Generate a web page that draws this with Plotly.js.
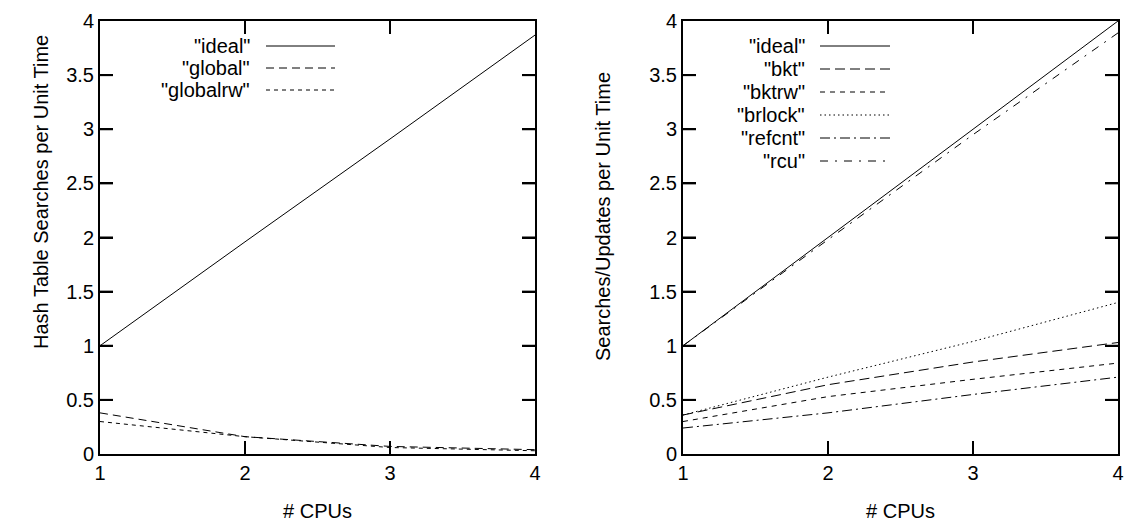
<!DOCTYPE html>
<html>
<head>
<meta charset="utf-8">
<script src="https://cdn.plot.ly/plotly-3.0.1.min.js"></script>
<style>html,body{margin:0;padding:0;background:#fff;}#chart{width:1125px;height:523px;}</style>
</head>
<body>
<div id="chart"></div>
<script>
// ---- data ----
const cpus = [1, 2, 3, 4];
// left panel
const leftIdeal    = [1.00, 1.96, 2.91, 3.87];
const leftGlobal   = [0.38, 0.16, 0.07, 0.04];
const leftGlobalrw = [0.30, 0.16, 0.06, 0.03];
// right panel
const rightIdeal  = [1.00, 2.00, 3.00, 4.00];
const rightBkt    = [0.36, 0.64, 0.85, 1.03];
const rightBktrw  = [0.30, 0.53, 0.69, 0.84];
const rightBrlock = [0.36, 0.71, 1.04, 1.40];
const rightRefcnt = [0.24, 0.38, 0.55, 0.71];
const rightRcu    = [1.00, 1.98, 2.95, 3.89];
const yTicks = [0, 0.5, 1, 1.5, 2, 2.5, 3, 3.5, 4];
const xTicks = [1, 2, 3, 4];

const leftNames  = ['"ideal"', '"global"', '"globalrw"'];
const rightNames = ['"ideal"', '"bkt"', '"bktrw"', '"brlock"', '"refcnt"', '"rcu"'];
const xTitle = '# CPUs';
const leftYTitle = 'Hash Table Searches per Unit Time';
const rightYTitle = 'Searches/Updates per Unit Time';

// ---- styles ----
const W = 1125, H = 523;
const FONT = 'Liberation Sans, Arial, Helvetica, sans-serif';
const FS = 20;
const dashes = {
  solid: 'solid',
  global: '8px,5px',
  globalrw: '4px,4px',
  bkt: '10px,5px',
  bktrw: '5px,5px',
  brlock: '1.5px,3px',
  refcnt: '10px,4px,2px,4px',
  rcu: '8px,7px,2px,7px'
};

function tr(y, name, dash, xa, ya) {
  return {x: cpus, y: y, name: name, type: 'scatter', mode: 'lines',
    xaxis: xa, yaxis: ya, showlegend: false,
    line: {color: '#000', width: 1, dash: dash}, hoverinfo: 'skip'};
}

const data = [
  tr(leftIdeal, leftNames[0], dashes.solid, 'x', 'y'),
  tr(leftGlobal, leftNames[1], dashes.global, 'x', 'y'),
  tr(leftGlobalrw, leftNames[2], dashes.globalrw, 'x', 'y'),
  tr(rightIdeal, rightNames[0], dashes.solid, 'x2', 'y2'),
  tr(rightBkt, rightNames[1], dashes.bkt, 'x2', 'y2'),
  tr(rightBktrw, rightNames[2], dashes.bktrw, 'x2', 'y2'),
  tr(rightBrlock, rightNames[3], dashes.brlock, 'x2', 'y2'),
  tr(rightRefcnt, rightNames[4], dashes.refcnt, 'x2', 'y2'),
  tr(rightRcu, rightNames[5], dashes.rcu, 'x2', 'y2')
];

const yDom = [(H - 454) / H, (H - 21) / H];
function xax(dom, anchor) {
  return {domain: dom, range: [1, 4], tickvals: xTicks, anchor: anchor,
    ticks: 'inside', ticklen: 13, tickwidth: 2, tickcolor: '#000',
    showline: true, linewidth: 2, linecolor: '#000', mirror: 'allticks',
    showgrid: false, zeroline: false,
    title: {text: xTitle, font: {family: FONT, size: FS, color: '#000'}, standoff: 21}};
}
function yax(dom, anchor) {
  return {domain: dom, range: [0, 4], tickvals: yTicks, anchor: anchor,
    ticks: 'inside', ticklen: 13, tickwidth: 2, tickcolor: '#000',
    showline: true, linewidth: 2, linecolor: '#000', mirror: 'allticks',
    showgrid: false, zeroline: false};
}

const shapes = [];
const annotations = [];
function legend(names, dashList, textRight, x0, x1, ys) {
  names.forEach((n, i) => {
    annotations.push({xref: 'paper', yref: 'paper', x: textRight / W, y: 1 - ys[i] / H,
      xanchor: 'right', yanchor: 'middle', showarrow: false, text: n});
    shapes.push({type: 'line', xref: 'paper', yref: 'paper',
      x0: x0 / W, x1: x1 / W, y0: 1 - ys[i] / H, y1: 1 - ys[i] / H,
      line: {color: '#000', width: 1, dash: dashList[i]}});
  });
}
legend(leftNames, [dashes.solid, dashes.global, dashes.globalrw], 252, 266, 335, [46, 68, 90]);
legend(rightNames, [dashes.solid, dashes.bkt, dashes.bktrw, dashes.brlock, dashes.refcnt, dashes.rcu],
  807, 820, 890, [46, 69, 92, 115, 138, 161]);

// inward tick marks on all four sides, placed via the axes' own scales
const TL = 13;
[['x', 'y'], ['x2', 'y2']].forEach(([xa, ya]) => {
  const fy = TL / 433, fx = TL / 435;
  xTicks.slice(1, -1).forEach(v => {
    shapes.push({type: 'line', xref: xa, yref: ya + ' domain', x0: v, x1: v, y0: 0, y1: fy, line: {color: '#000', width: 2}});
    shapes.push({type: 'line', xref: xa, yref: ya + ' domain', x0: v, x1: v, y0: 1 - fy, y1: 1, line: {color: '#000', width: 2}});
  });
  yTicks.slice(1, -1).forEach(v => {
    shapes.push({type: 'line', xref: xa + ' domain', yref: ya, x0: 0, x1: fx, y0: v, y1: v, line: {color: '#000', width: 2}});
    shapes.push({type: 'line', xref: xa + ' domain', yref: ya, x0: 1 - fx, x1: 1, y0: v, y1: v, line: {color: '#000', width: 2}});
  });
});

// rotated y-axis titles
[[leftYTitle, 41, 192], [rightYTitle, 603, 217]].forEach(([t, cx, cy]) => {
  annotations.push({xref: 'paper', yref: 'paper', x: cx / W, y: 1 - cy / H,
    xanchor: 'center', yanchor: 'middle', showarrow: false, text: t, textangle: -90});
});

const layout = {
  width: W, height: H,
  margin: {l: 0, r: 0, t: 0, b: 0},
  font: {family: FONT, size: FS, color: '#000'},
  paper_bgcolor: '#fff', plot_bgcolor: 'rgba(0,0,0,0)',
  showlegend: false,
  xaxis: xax([100 / W, 535 / W], 'y'),
  yaxis: yax(yDom, 'x'),
  xaxis2: xax([683 / W, 1118 / W], 'y2'),
  yaxis2: yax(yDom, 'x2'),
  shapes: shapes,
  annotations: annotations
};

Plotly.newPlot('chart', data, layout, {staticPlot: true, displayModeBar: false});
</script>
</body>
</html>
